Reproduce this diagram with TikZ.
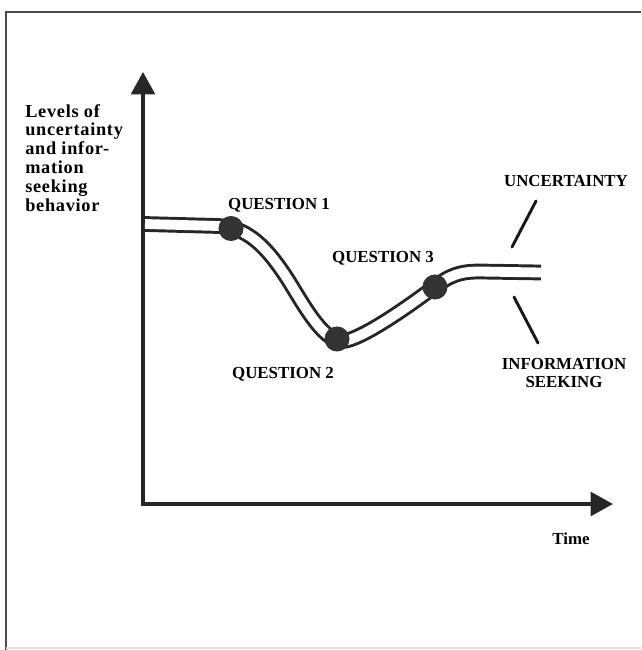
\documentclass[tikz,border=0pt]{standalone}
\usepackage{fontspec}
\setmainfont{Liberation Serif}
\usetikzlibrary{arrows.meta, positioning}

\begin{document}
\begin{tikzpicture}[
    x=0.025cm, y=-0.025cm,
    frame/.style={draw=black!70, line width=1.5pt},
    axis/.style={draw=black!85, line width=2.4pt, {Triangle[length=16pt, width=17pt]}-{Triangle[length=16pt, width=17pt]}},
    track/.style={draw=black!85, line width=2.1pt, double=white, double distance=7pt},
    qdot/.style={circle, fill=black!80, minimum size=17.8pt, inner sep=0pt},
    lbl/.style={font=\bfseries\fontsize{12}{13.4}\selectfont, inner sep=0pt, align=center},
    pointer/.style={draw=black!90, line width=2.1pt, line cap=round}
]

% page and frame
\useasboundingbox (0,0) rectangle (641,650);
\draw[frame] (641,12) -- (6,12) -- (6,650);
\draw[black!12, line width=0.8pt] (6,648) -- (641,648);

% axes
\coordinate (ytip) at (143,72);
\coordinate (origin) at (143,504);
\coordinate (xtip) at (613,504);
\draw[axis] (ytip) -- (origin) -- (xtip);

% the two curves
\draw[track] (145,224) -- (218,226)
    .. controls (245,227) and (265,243) .. (290,283)
    .. controls (307,311) and (325,342) .. (343,341)
    .. controls (360,340) and (405,309) .. (433,288)
    .. controls (450,275) and (460,271.5) .. (480,271.5)
    -- (541,272.5);

% questions
\node[qdot] (q1) at (231,228.5) {};
\node[qdot] (q2) at (337,339) {};
\node[qdot] (q3) at (435,287) {};

\node[lbl] (q1lbl) at (279,205) {QUESTION 1};
\node[lbl] (q2lbl) at (283,374) {QUESTION 2};
\node[lbl] (q3lbl) at (383,258) {QUESTION 3};

% labels
\node[lbl, align=left, anchor=north west, font=\bfseries\fontsize{13}{13.4}\selectfont\addfontfeatures{LetterSpace=4}] (ylbl) at (25,104)
    {Levels of\\uncertainty\\and infor-\\mation\\seeking\\behavior};
\node[lbl] (tlbl) at (571,539) {Time};
\node[lbl] (unc) at (566,181) {UNCERTAINTY};
\node[lbl] (info) at (564,373) {INFORMATION\\SEEKING};

\coordinate (uncend) at (512,247);
\coordinate (infoend) at (514,297);
\draw[pointer] (536,201) -- (uncend);
\draw[pointer] (infoend) -- (538,343);

\end{tikzpicture}
\end{document}
